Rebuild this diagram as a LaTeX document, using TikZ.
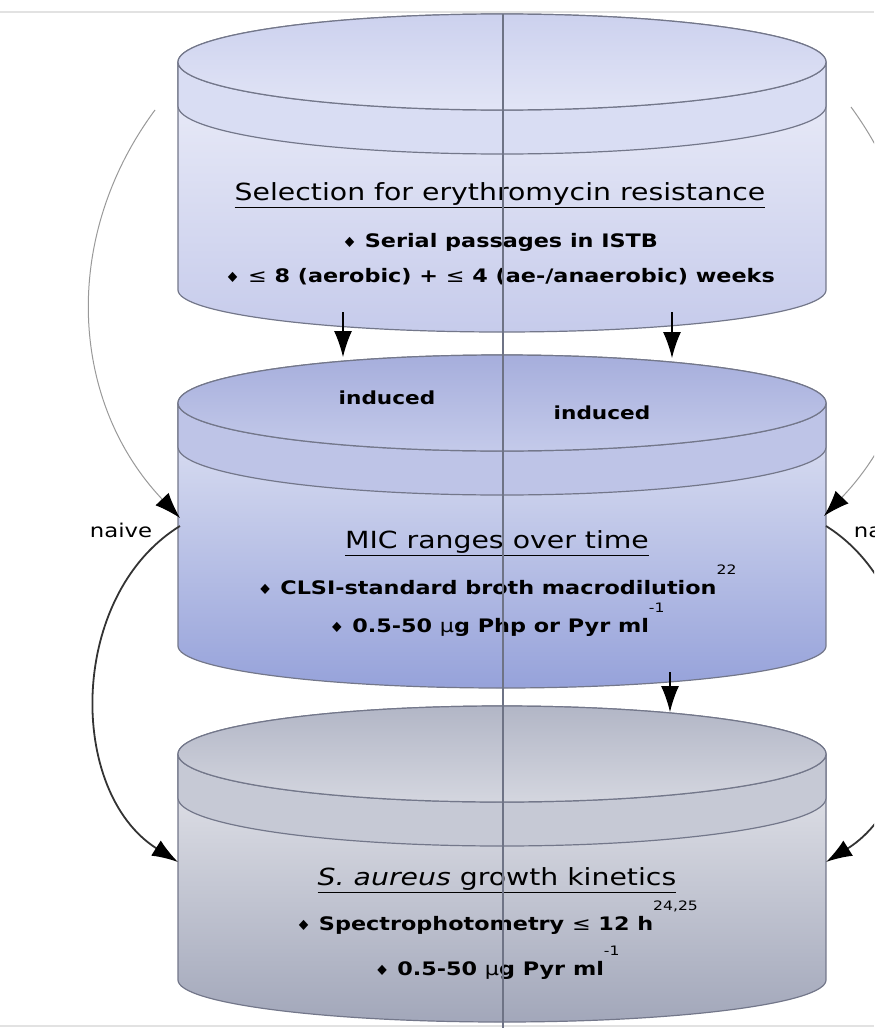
\documentclass[tikz,border=0pt]{standalone}
\usepackage{fontspec}
\setmainfont[FakeStretch=1.2]{DejaVu Sans}
\usepackage{xcolor}
\usepackage{tikz}
\usetikzlibrary{arrows.meta}

\definecolor{rimgray}{HTML}{73778A}
\definecolor{axisgray}{HTML}{6E7385}
\definecolor{framegray}{HTML}{E2E2E2}
% drum colours: lid top/bottom, band, body top/bottom
\definecolor{selLidA}{HTML}{CCD1EE}  \definecolor{selLidB}{HTML}{E2E5F6}
\definecolor{selBand}{HTML}{D9DDF3}
\definecolor{selBodyA}{HTML}{F3F4FB} \definecolor{selBodyB}{HTML}{C6CBEB}
\definecolor{micLidA}{HTML}{A6AEDC}  \definecolor{micLidB}{HTML}{C4CAEA}
\definecolor{micBand}{HTML}{BEC4E7}
\definecolor{micBodyA}{HTML}{EDEFF8} \definecolor{micBodyB}{HTML}{96A2DA}
\definecolor{kinLidA}{HTML}{B2B6C6}  \definecolor{kinLidB}{HTML}{D4D6DF}
\definecolor{kinBand}{HTML}{C6C9D5}
\definecolor{kinBodyA}{HTML}{F2F2F5} \definecolor{kinBodyB}{HTML}{A2A7BA}

% a drum: #1 rim y, #2 base y, #3/#4 lid top/bottom, #5 band, #6/#7 body top/bottom
\newcommand{\drum}[7]{%
  \path[drumline, top color=#6, bottom color=#7]
    (178,#1) -- (178,#2) arc[start angle=180, end angle=0, x radius=324, y radius=42]
    -- (826,#1) arc[start angle=0, end angle=-180, x radius=324, y radius=48] -- cycle;
  \path[drumline, fill=#5]
    (178,#1) arc[start angle=180, end angle=0, x radius=324, y radius=48]
    -- ++(0,44) arc[start angle=0, end angle=180, x radius=324, y radius=48] -- cycle;
  \path[drumline, top color=#3, bottom color=#4] (502,#1) ellipse[x radius=324, y radius=48];
}
\newcommand{\bul}{{\fontsize{7}{7}\selectfont ♦}\ }
\newcommand{\refmark}[1]{\raisebox{10pt}{\mdseries\fontsize{6.5}{7}\selectfont #1}}

\begin{document}
\begin{tikzpicture}
  [ x=0.5pt, y=-0.5pt,
    drumline/.style={draw=rimgray, line width=0.6pt},
    headline/.style={anchor=base, inner sep=0pt, font=\fontsize{11.8}{14}\selectfont},
    bullet/.style={anchor=base, inner sep=0pt, font=\bfseries\fontsize{9.3}{11}\selectfont},
    inlabel/.style={font=\bfseries\fontsize{9}{11}\selectfont},
    naivelabel/.style={font=\fontsize{9.5}{11}\selectfont},
    ld/.style={draw=black, line width=0.6pt, -{Latex[length=13pt,width=9pt]}},
    naivethin/.style={draw=gray!80, line width=0.5pt, -{Latex[length=13pt,width=9pt,color=black]}},
    naivethick/.style={draw=black!80, line width=0.9pt, -{Latex[length=13pt,width=9pt,color=black]}}
  ]
  \useasboundingbox (0,0) rectangle (874,1028);
  \clip (0,0) rectangle (874,1028);

  \draw [framegray, line width=1pt] (0,12) -- (874,12);
  \draw [framegray, line width=1pt] (0,1026) -- (874,1026);

  \drum{62}{290}{selLidA}{selLidB}{selBand}{selBodyA}{selBodyB}
  \drum{403}{646}{micLidA}{micLidB}{micBand}{micBodyA}{micBodyB}
  \drum{754}{980}{kinLidA}{kinLidB}{kinBand}{kinBodyA}{kinBodyB}

  \coordinate (s1) at (343,312);
  \coordinate (t1) at (343,357);
  \coordinate (s2) at (672,312);
  \coordinate (t2) at (672,358);
  \coordinate (s3) at (670,672);
  \coordinate (t3) at (670,712);
  \draw [ld] (s1) -- (t1);
  \draw [ld] (s2) -- (t2);
  \draw [ld] (s3) -- (t3);

  \coordinate (l1) at (155,110);
  \coordinate (l2) at (180,518);
  \coordinate (l3) at (180,526);
  \coordinate (l4) at (178,862);
  \coordinate (r1) at (851,107);
  \coordinate (r2) at (824,516);
  \coordinate (r3) at (826,526);
  \coordinate (r4) at (826,862);
  \draw [naivethin]  (l1) to[bend right=40] (l2);
  \draw [naivethick] (l3) to[bend right=58] (l4);
  \draw [naivethin]  (r1) to[bend left=40] (r2);
  \draw [naivethick] (r3) to[bend left=58] (r4);

  \node (ind1) at (387,398) [inlabel] {induced};
  \node (ind2) at (602,413) [inlabel] {induced};
  \node (nv1) at (121,530) [naivelabel] {naive};
  \node (nv2) at (885,530) [naivelabel] {naive};

  \node (sel)  at (500,200) [headline] {\underline{Selection for erythromycin resistance}};
  \node (sel1) at (500,247) [bullet] {\bul Serial passages in ISTB};
  \node (sel2) at (500,282) [bullet] {\bul {\mdseries ≤} 8 (aerobic) + {\mdseries ≤} 4 (ae-/anaerobic) weeks};
  \node (mic)  at (497,548) [headline] {\underline{MIC ranges over time}};
  \node (mic1) at (497,594) [bullet] {\bul CLSI-standard broth macrodilution\refmark{22}};
  \node (mic2) at (497,632) [bullet] {\bul 0.5-50 {\mdseries µ}g Php or Pyr ml\refmark{-1}};
  \node (kin)  at (497,885) [headline] {\underline{\textit{S. aureus} growth kinetics}};
  \node (kin1) at (497,930) [bullet] {\bul Spectrophotometry {\mdseries ≤} 12 h\refmark{24,25}};
  \node (kin2) at (497,975) [bullet] {\bul 0.5-50 {\mdseries µ}g Pyr ml\refmark{-1}};

  \draw [axisgray, line width=0.7pt] (503,14) -- (503,1028);  % centre line over the drums
\end{tikzpicture}
\end{document}
